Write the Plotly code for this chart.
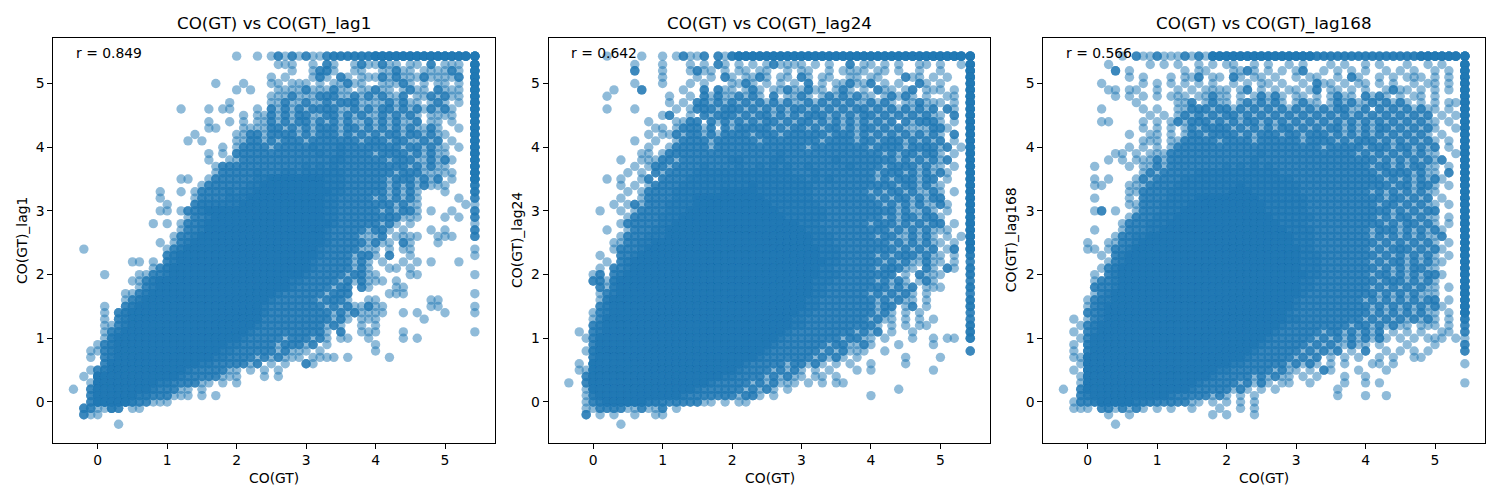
import plotly.graph_objects as go

# ---------------- data ----------------
# grid positions of the values (CO(GT) is recorded in 0.1 steps, clipped at 5.43)
X_LEVELS = [-0.35, -0.2, -0.1, 0.0, 0.1, 0.2, 0.3, 0.4, 0.5, 0.6, 0.7, 0.8, 0.9,
            1.0, 1.1, 1.2, 1.3, 1.4, 1.5, 1.6, 1.7, 1.8, 1.9,
            2.0, 2.1, 2.2, 2.3, 2.4, 2.5, 2.6, 2.7, 2.8, 2.9,
            3.0, 3.1, 3.2, 3.3, 3.4, 3.5, 3.6, 3.7, 3.8, 3.9,
            4.0, 4.1, 4.2, 4.3, 4.4, 4.5, 4.6, 4.7, 4.8, 4.9,
            5.0, 5.1, 5.2, 5.3, 5.43]
Y_LEVELS = [5.43, 5.3, 5.2, 5.1, 5.0, 4.9, 4.8, 4.7, 4.6, 4.5, 4.4, 4.3, 4.2, 4.1,
            4.0, 3.9, 3.8, 3.7, 3.6, 3.5, 3.4, 3.3, 3.2, 3.1,
            3.0, 2.9, 2.8, 2.7, 2.6, 2.5, 2.4, 2.3, 2.2, 2.1,
            2.0, 1.9, 1.8, 1.7, 1.6, 1.5, 1.4, 1.3, 1.2, 1.1,
            1.0, 0.9, 0.8, 0.7, 0.6, 0.5, 0.4, 0.3, 0.2, 0.1,
            0.0, -0.1, -0.2, -0.35]

# density class of each (x, y) cell as read from the picture, and the estimated
# number of observations that each class stands for
DENSITY_COUNT = {"1": 1, "2": 3, "3": 4, "7": 7, "8": 8}

# one string per Y level, one char per X level ('.' = none).  '|' only separates
# the groups -0.35..-0.1 | 0.x | 1.x | 2.x | 3.x | 4.x | 5.0-5.3 | 5.43
COUNTS_LAG1 = [
    "...|..........|..........|1..1.12121|2112333333|7777777777|7777|8",
    "...|..........|..........|......111.|.1.21..121|1211.11.2.|111.|7",
    "...|..........|..........|........1.|.1221..11.|.11211.111|121.|7",
    "...|..........|..........|.....1.1..|.121.21.11|1212111211|112.|7",
    "...|..........|.......1..|.1...11.11|1.1.11211.|.11121.1.1|1.1.|7",
    "...|..........|..........|1.1...1111|2111211.11|211.1211.2|111.|7",
    "...|..........|..........|.....11121|1122211212|12112.1121|211.|7",
    "...|..........|.........1|.....11211|2112122211|1121211.12|1.1.|7",
    "...|..........|..1...1.11|...1.21212|1222211212|1221212121|21..|7",
    "...|..........|..........|.1.1121212|2112212121|1212121.11|11..|7",
    "...|..........|......1..1|.1.1121212|2121212112|1212112.11|.1..|7",
    "...|..........|......11..|.111122121|2122212212|1212121121|..1.|7",
    "...|..........|....1.....|1122122221|2122212121|2122122121|1...|7",
    "...|..........|...1.1....|1122121222|1222222212|2212211212|.1..|7",
    "...|..........|........1.|1222212222|2322232222|2222122121|1.1.|7",
    "...|..........|......1.1.|2222222222|2232232222|1222212121|1...|7",
    "...|..........|......1..1|1222222222|2222332222|2212221121|21..|7",
    "...|..........|.......122|2222222222|3232322222|2222212121|1...|7",
    "...|..........|.......122|2223222332|3333332222|2221222111|11..|7",
    "...|..........|..11..1222|2223377777|7773332222|2212221212|.1..|7",
    "...|..........|.....12222|2233777777|7773332222|2212121211|1...|3",
    "...|.........1|..1.122223|2337777777|7777332222|2212121...|1...|3",
    "...|.........1|....122223|3377777777|7773322222|1212121...|..1.|2",
    "...|..........|1...233333|3777777777|7773322222|2221211...|...1|1",
    "...|.........1|1.12237777|7777777777|7773322222|2121221.1.|.1..|2",
    "...|..........|...1223777|7777777777|7773322222|2222111...|1.1.|2",
    "...|........1.|1.12237777|7777777777|7777322222|2121.1....|....|1",
    "...|..........|..12237777|7777777777|7773222221|221.1...1.|1...|2",
    "...|..........|.122377777|7777777777|7773222211|12.1111..1|11..|2",
    "...|.........1|.123777777|7777777777|7773222221|211.21...1|....|.",
    ".1.|..........|1237777777|7777777777|7732222211|1.1.11....|....|1",
    "...|..........|2377777777|7777777777|7732222122|1.2..1....|....|1",
    "...|.....11.1.|2377777777|7777777777|7322222121|.1..1.1.1.|..1.|.",
    "...|........12|3777777777|7777777777|7322222121|..11.1....|....|.",
    "...|.1....1122|3777777777|7777777777|3222221221|1....11...|....|1",
    "...|.....11237|7777777777|7777777733|2222212121|11.1......|....|.",
    "...|......1237|7777777777|7777777732|2222122.21|...11.....|....|.",
    "...|....112377|7777777777|7777773222|2221222...|..111.....|....|1",
    "...|....123777|7777777777|7777732222|2212221..1|1.......11|....|.",
    "...|.1..237777|7777777777|7777322222|2221212112|11......11|....|1",
    "...|.1.2377777|7777777777|7777322222|2222121211|11..1.1...|1...|1",
    "...|.1.2377777|7777777777|7777222222|2222121.11|1......1..|....|.",
    "...|.112377777|7777777777|7773222222|222121..1.|1.........|....|.",
    "...|.123777777|7777777777|7732222222|2221.2..11|1...1.....|....|1",
    "...|.137777777|7777777777|7322222122|2121.11..1|....1.1...|....|.",
    "...|1237777777|7777777773|3222221222|12.1......|1.........|....|.",
    "..1|1237777777|7777777733|2222221211|1.1.......|1.........|....|.",
    "..1|.237777777|7777777332|2221212111|.1111.1...|..1.......|....|.",
    "...|.277777777|7777733222|2212.1.1..|21........|..........|....|.",
    "..1|2377777777|7773222221|1.1.1.1...|..........|..........|....|.",
    ".1.|7777777777|7732222211|1...1.1...|..........|..........|....|.",
    "..1|7777777773|3222211.1.|1.........|..........|..........|....|.",
    "1.2|7777777732|2211.1....|..........|..........|..........|....|.",
    "..2|7777773322|2111.1.1..|..........|..........|..........|....|.",
    "..2|7777732211|1.........|..........|..........|..........|....|.",
    ".22|1132.11...|..........|..........|..........|..........|....|.",
    ".21|1.........|..........|..........|..........|..........|....|.",
    "...|...1......|..........|..........|..........|..........|....|.",
]

COUNTS_LAG24 = [
    "...|..1....1..|1.12112.21|3777777777|7777777777|7777777777|7777|8",
    "...|......1...|1...1.1.21|.1.1.12111|1.1.1..2.1|1.1.1..11.|1..1|7",
    "...|......2...|1...1211.1|.11.11..1.|11..1.1111|.11.1..1..|1...|7",
    "...|..........|1....1.1.2|1.1121.11.|21.11..11.|11...211.1|.1..|7",
    "...|......1...|1...1.1...|1121.1.1.1|.2.1.11211|2.1.1..21.|1...|7",
    "...|...1...2..|...1..2.21|1.121.1121|1211.121.1|.211.12.11|1.1.|7",
    "...|..1.......|.1..1.2121|12121.2.11|21.1212121|1.12121.1.|.11.|7",
    "...|..........|.1.1.22121|2121212121|1212121211|2121.11211|1.1.|7",
    "...|..1...1...|..1.122212|2212121212|2121212122|1212121212|.21.|7",
    "...|..........|12..1.2122|2121221212|1222121212|2121212121|1.2.|7",
    "...|........1.|..1122.212|1212122121|2212121212|1212.21222|1.1.|7",
    "...|.........1|1.122212.2|1222221212|2121221212|2121211112|21..|7",
    "...|........1.|1121221212|2221222122|2222122212|1212121212|1.2.|7",
    "...|......1..1|..12222122|2222122222|2221222212|2122212121|2.1.|7",
    "...|........1.|.122222122|2222222222|2122222222|1222212222|12.1|7",
    "...|.......11.|1222222222|2222222322|2222222222|2212122122|1.1.|7",
    "...|....1..111|2212222222|3322223322|2222232222|2222121212|12..|7",
    "...|......1.12|2122223222|2322323232|2322222322|2212222121|1.1.|7",
    "...|.....1.1.2|1222233333|3333333332|2232222222|2122212121|21..|7",
    "...|..1.1..12.|2222333333|3333333333|3232322222|2121222122|.1..|7",
    "...|....1.1.12|2223333333|3337333333|3322222222|2222122121|1...|7",
    "...|.....1.122|2233333337|7777333333|3322222222|1212212112|1.1.|7",
    "...|....1..122|2233377777|7777733333|3322222222|2121221212|2...|7",
    "...|...1.12122|2333377777|7777773333|3332222222|2212121211|21..|7",
    "...|.1..1.1222|2333777777|7777777333|3333222222|2222121121|.1..|7",
    "...|.....12222|3337777777|7777777733|3333222222|2212122122|1...|7",
    "...|....122222|3377777777|7777777777|3332222222|1222121212|2.1.|7",
    "...|..1..12223|3777777777|7777777777|7333222222|2221212121|11..|7",
    "...|....122233|3777777777|7777777777|7733322222|2122112121|.1.1|7",
    "...|...1122337|7777777777|7777777777|7733322222|2221212121|1.1.|7",
    "...|...1222377|7777777777|7777777777|7773332222|2222121212|.12.|7",
    "...|.1..223777|7777777777|7777777777|7773332222|2121222121|1.1.|3",
    "...|..1.237777|7777777777|7777777777|7777332222|2212121121|1.1.|2",
    "...|.1.2237777|7777777777|7777777777|7773322222|2122211.21|.21.|3",
    "...|12.2377777|7777777777|7777777777|7773332222|2222.1.211|1...|3",
    "...|2213777777|7777777777|7777777777|7733322222|212121.121|....|2",
    "...|.213777777|7777777777|7777777777|7733222222|2221212.11|1...|3",
    "...|.123777777|7777777777|7777777777|7733222222|1212121.1.|....|2",
    "...|.137777777|7777777777|7777777777|7332222222|2121211.1.|....|3",
    "...|.237777777|7777777777|7777777777|7332222222|2122.12.1.|....|3",
    "...|1237777777|7777777777|7777777777|3322222222|2121.1.1..|....|2",
    "...|1277777777|7777777777|7777777773|3222222222|1211.1.1.1|....|2",
    "...|2377777777|7777777777|7777777773|3222222222|21.1.1.11.|....|3",
    ".1.|2377777777|7777777777|7777777732|2222222212|12.1..1...|....|3",
    "..1|2777777777|7777777777|7777777322|2222221221|1.1...1..1|.11.|3",
    "...|2777777777|7777777777|7777773222|2222122112|1...1....1|....|.",
    "..1|3777777777|7777777777|7777732222|2221212111|..1.......|....|2",
    "...|3777777777|7777777777|7777322222|2212121.1.|.....1....|1...|.",
    ".1.|7777777777|7777777777|7732222212|2121.1.1..|1....1....|....|.",
    ".11|7777777777|7777777777|7322221212|1.1.1...1.|1........1|....|.",
    "..2|7777777777|7777777773|3222212121|1.11.1....|..........|....|.",
    "1.2|7777777777|7777777322|2221212111|.1.1.11...|..........|....|.",
    "..1|7777777777|7777732222|2212121.1.|..........|....1.....|....|.",
    "..1|3777777777|7773222222|21221.1...|..........|1.........|....|.",
    "..1|2377777733|22222211.1|.11.......|..........|..........|....|.",
    "..1|1222211211|2.1.......|..........|..........|..........|....|.",
    "..2|.1.1..1..1|1.........|..........|..........|..........|....|.",
    "...|....1.....|..........|..........|..........|..........|....|.",
]

COUNTS_LAG168 = [
    "...|.....1.211|2111212177|7777777777|7773333333|3333333377|7777|8",
    "...|...1.....1|.1.1..1.1.|11..1.1..1|.1...1.1..|1.1...1..1|.1..|7",
    "...|....2.1...|....1.11..|.1121.1.1.|12..1.1.1.|1..1.1.1..|1.1.|7",
    "...|......1.1.|..1.112.11|.21.11.1..|1.11..1.21|..1.1.111.|1.1.|7",
    "...|..1.....1.|1.1.1.1.1.|.1.1.11.1.|.1.211.1.1|1.1.1..1.1|1.1.|7",
    "...|...11.11..|1..1.1.111|1.12.1.1.1|1.12.11.1.|1..1211.1.|1.1.|7",
    "...|....1.1.1.|1.111.1121|1.1.12121.|11.1.1211.|2121.1.11.|1...|7",
    "...|.......1..|...112.121|1.1212121.|1211.12121|1212121.1.|1.11|7",
    "...|..1.....1.|1..1122212|2121212121|2121212211|2.21212121|1.1.|7",
    "...|.........1|.1.1212121|2212121212|1212121212|1212121212|.1.1|7",
    "...|..11....1.|1.12122212|1212212121|2121212121|2121212121|1.1.|7",
    "...|........1.|1.1.121222|2121212122|1212122121|2122121212|1..1|7",
    "...|......1..1|1.1.122122|2212122212|2122212121|2121212121|.1..|7",
    "...|........11|1.11222221|2222122222|2122221212|2212121212|1.1.|7",
    "...|......1.1.|1.12222222|2222222222|2222122222|1222122121|2.1.|7",
    "...|....11.1.1|1122222222|2222232222|2222222221|2121212121|1..1|7",
    "...|...1.1.111|2122222222|2222322222|2222222222|2212121212|12..|7",
    "...|.1....1.11|2122222222|3232323222|2222222222|2122121221|1.1.|7",
    "...|........12|1222223333|3333333322|2222222222|2212222121|1.2.|7",
    "...|.1.1...121|2222333333|3333333333|2222222222|2221212121|21..|7",
    "...|.11...1112|2223333333|3373333333|3222222222|2222122122|1.1.|7",
    "...|......1122|2233333333|3777333333|3222222222|2121212121|1...|7",
    "...|.1....1.22|2233337777|7777733333|3322222222|2221221212|.1..|7",
    "...|......1122|2333377777|7777773333|3322222222|2212212121|1.1.|7",
    "...|.12.1..122|2333777777|7777773333|3322222222|2222121212|2...|7",
    "...|......1222|3337777777|7777777333|3332222222|2212122121|1.1.|7",
    "...|.....12223|3377777777|7777777733|3322222222|2221212212|1.1.|7",
    "...|.1...12223|3777777777|7777777773|3332222222|2122212121|21..|7",
    "...|....122337|7777777777|7777777777|3332222222|2121212121|12..|7",
    "...|1..1122377|7777777777|7777777777|3332222222|2212121212|1.1.|7",
    "...|11.1223777|7777777777|7777777777|7332222222|2121222121|21..|7",
    "...|..1.237777|7777777777|7777777777|7333222222|2212121212|1.1.|7",
    "...|...1237777|7777777777|7777777777|7333222222|2121221212|11..|7",
    "...|..12377777|7777777777|7777777777|7333222222|2212121221|1...|7",
    "...|.1.2377777|7777777777|7777777777|7733222222|2122121212|21..|7",
    "...|.122377777|7777777777|7777777777|7332222222|2212221212|1...|7",
    "...|.222377777|7777777777|7777777777|7332222222|2121212121|1.1.|7",
    "...|.123777777|7777777777|7777777777|7322222222|2212121211|1...|7",
    "...|1233777777|7777777777|7777777777|3222222222|1212121212|2.1.|7",
    "...|1237777777|7777777777|7777777777|3222222222|2121212121|21..|7",
    "...|2237777777|7777777777|7777777773|2222222222|2121212121|1.1.|7",
    ".1.|1237777777|7777777777|7777777773|3222222222|1212121212|1.1.|3",
    "..1|2377777777|7777777777|7777777732|2222222212|2121211.11|1.1.|2",
    ".1.|2377777777|7777777777|7777777322|2222122121|212.1.1.1.|.11.|2",
    "..1|2777777777|7777777777|7777773222|2221212121|2121.1.1.1|11.1|1",
    ".1.|3777777777|7777777777|7777732222|2212121121|1.1...1...|1...|2",
    ".1.|3777777777|7777777777|7777322222|2121212.1.|2..1.1.1.1|....|2",
    ".11|7777777777|7777777777|7773222222|1212.1.1.1|..1.1..11.|....|.",
    "..1|7777777777|7777777777|7332222221|2121.1.1..|.11.1.....|....|1",
    ".1.|7777777777|7777777773|3222222121|1.1.21...1|...1......|....|.",
    "..1|7777777777|7777777732|2222121211|.1.1...1..|1.........|....|.",
    "..1|7777777777|7777773222|2212121.11|..1....1..|1.1.......|....|1",
    "1.2|7777777777|7777732222|2121.1.1..|......1...|..........|....|.",
    "..2|3777777777|7732222212|1.1.1.....|......1...|1..1......|....|.",
    ".12|2377777333|2222211.1.|1.1.1.....|..........|..........|....|.",
    ".11|1.2212121.|1.1..1...1|..1.1.....|..........|..........|....|.",
    "...|...1..1...|........1.|1...1.....|..........|..........|....|.",
    "...|....1.....|..........|..........|..........|..........|....|.",
]

PANEL_COUNTS = [COUNTS_LAG1, COUNTS_LAG24, COUNTS_LAG168]
TITLES = ["CO(GT) vs CO(GT)_lag1", "CO(GT) vs CO(GT)_lag24", "CO(GT) vs CO(GT)_lag168"]
Y_LABELS = ["CO(GT)_lag1", "CO(GT)_lag24", "CO(GT)_lag168"]
X_LABEL = "CO(GT)"
R_VALUES = [0.849, 0.642, 0.566]
TICKS = [0, 1, 2, 3, 4, 5]


def expand(rows):
    xs, ys = [], []
    for yv, row in zip(Y_LEVELS, rows):
        cells = row.replace("|", "")
        cells = (cells + "." * len(X_LEVELS))[:len(X_LEVELS)]
        for xv, c in zip(X_LEVELS, cells):
            n = DENSITY_COUNT.get(c, 0)
            xs.extend([xv] * n)
            ys.extend([yv] * n)
    return xs, ys


# ---------------- figure ----------------
W, H = 1500, 500
PLOT_LEFT = [53.3, 548.7, 1043.3]
PLOT_W = 441.7
PLOT_TOP, PLOT_BOTTOM = 37.7, 442.7
YLABEL_X = [21.7, 516.7, 1011.0]
BLUE = "#1f77b4"
FONT = "DejaVu Sans"

fig = go.Figure()
layout = dict(
    width=W, height=H,
    margin=dict(l=0, r=0, t=0, b=0),
    paper_bgcolor="white", plot_bgcolor="white",
    showlegend=False,
    font=dict(family=FONT, size=13.9, color="black"),
    annotations=[],
)

axis_common = dict(
    range=[-0.64, 5.72], tickvals=TICKS, ticks="outside", ticklen=5, tickwidth=1.1,
    tickcolor="black", showline=True, linecolor="black", linewidth=1.1, mirror=True,
    showgrid=False, zeroline=False,
    tickfont=dict(family=FONT, size=13.9, color="black"),
)

for i, rows in enumerate(PANEL_COUNTS):
    xs, ys = expand(rows)
    suf = "" if i == 0 else str(i + 1)
    fig.add_trace(go.Scatter(
        x=xs, y=ys, mode="markers",
        marker=dict(color=BLUE, size=9.4, opacity=0.5, line=dict(width=0)),
        xaxis="x" + suf, yaxis="y" + suf, hoverinfo="skip",
    ))
    x0 = PLOT_LEFT[i] / W
    x1 = (PLOT_LEFT[i] + PLOT_W) / W
    layout["xaxis" + suf] = dict(axis_common, domain=[x0, x1], anchor="y" + suf)
    layout["yaxis" + suf] = dict(axis_common, domain=[1 - PLOT_BOTTOM / H, 1 - PLOT_TOP / H],
                                 anchor="x" + suf)
    cx = (PLOT_LEFT[i] + PLOT_W / 2) / W
    layout["annotations"] += [
        dict(text=TITLES[i], x=cx, y=1 - 23 / H, xref="paper", yref="paper",
             xanchor="center", yanchor="middle", showarrow=False,
             font=dict(family=FONT, size=16.7, color="black")),
        dict(text=f"r = {R_VALUES[i]:.3f}", x=(PLOT_LEFT[i] + 20.5) / W, y=1 - 53 / H,
             xref="paper", yref="paper", xanchor="left", yanchor="middle",
             showarrow=False, font=dict(family=FONT, size=13.9, color="black")),
        dict(text=X_LABEL, x=cx, y=1 - 478 / H, xref="paper", yref="paper",
             xanchor="center", yanchor="middle", showarrow=False,
             font=dict(family=FONT, size=13.9, color="black")),
        dict(text=Y_LABELS[i], x=YLABEL_X[i] / W, y=1 - 240.2 / H, xref="paper",
             yref="paper", xanchor="center", yanchor="middle", textangle=-90,
             showarrow=False, font=dict(family=FONT, size=13.9, color="black")),
    ]

fig.update_layout(**layout)
fig.write_html("out.html", config={"displayModeBar": False},
               post_script="document.body.style.margin='0';document.body.style.overflow='hidden';")
